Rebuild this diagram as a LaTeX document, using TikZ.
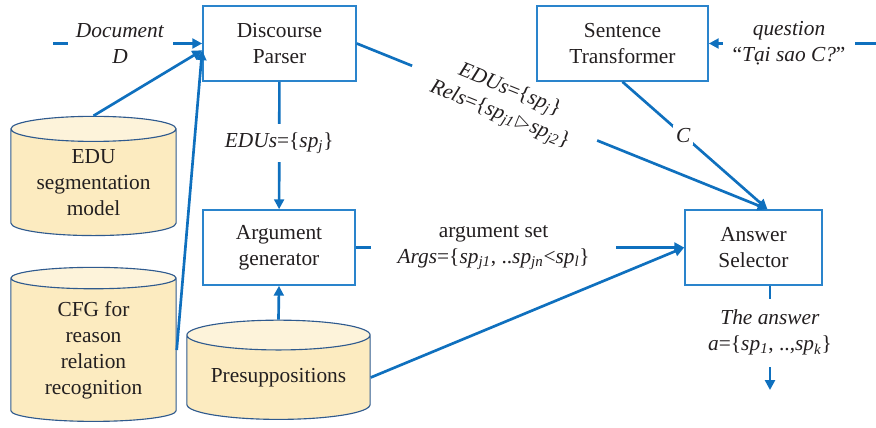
\documentclass[tikz,border=0pt]{standalone}
\usepackage{fontspec}
\usepackage{amssymb}
\setmainfont{Liberation Serif}
\usetikzlibrary{shapes.geometric, arrows.meta, positioning}
\definecolor{flowblue}{HTML}{0F70BE}
\definecolor{boxblue}{HTML}{2A84CC}
\definecolor{dbnavy}{HTML}{2F5A8E}
\definecolor{dbbody}{HTML}{FCEBC0}
\definecolor{dbtop}{HTML}{FDF3DA}
\definecolor{inkgray}{HTML}{231F20}

\newcommand{\spx}[1]{\textit{sp\textsubscript{#1}}}

\tikzset{
  txt/.style={text=inkgray, font=\fontsize{15.2}{18.5}\selectfont, align=center},
  procbox/.style={txt, draw=boxblue, line width=1pt, fill=white, minimum height=1.88cm, inner sep=0pt},
  datastore/.style={txt, cylinder, shape border rotate=90, aspect=0.22, draw=dbnavy, line width=0.8pt,
    cylinder uses custom fill, cylinder body fill=dbbody, cylinder end fill=dbtop, inner sep=0pt},
  flow/.style={draw=flowblue, line width=1.9pt, -{Triangle[length=7pt,width=7pt]}},
  gap/.style={txt, fill=white, inner sep=3pt},
}

\begin{document}
\begin{tikzpicture}[x=0.025cm, y=-0.025cm]
        \useasboundingbox (0,0) rectangle (876,428);

        % Processing boxes
        \node[procbox, minimum width=3.83cm] (parser) at (279.5,43.5) {Discourse\\Parser};
        \node[procbox, minimum width=4.28cm] (transf) at (622.5,43.5) {Sentence\\Transformer};
        \node[procbox, minimum width=3.8cm] (arggen) at (279,247.5) {Argument\\generator};
        \node[procbox, minimum width=3.43cm] (selector) at (753.5,247.5) {Answer\\Selector};

        % Knowledge stores
        \node[datastore, minimum width=4.13cm, minimum height=2.98cm] (edumodel) at (93.5,182.5) {EDU\\segmentation\\model};
        \node[datastore, minimum width=4.13cm, minimum height=3.85cm] (cfg) at (93.5,350) {CFG for\\reason\\relation\\recognition};
        \node[datastore, minimum width=4.58cm, minimum height=2.48cm] (presup) at (278.5,377.5) {Presuppositions};

        % Free ends
        \coordinate (docin) at (53,43.5);
        \coordinate (qin) at (876,43.5);
        \coordinate (ansout) at (770,390);

        % Inputs
        \draw[flow] (docin) -- node[gap, pos=0.45, inner xsep=6pt] {\textit{Document}\\\textit{D}} (parser.west);
        \draw[flow] (edumodel.north) -- (parser.185);
        \draw[flow] (cfg.east) -- (parser.185);
        \draw[flow] (qin) -- node[gap, pos=0.52, inner xsep=7pt] {\textit{question}\\“\textit{Tại sao C?}”} (transf.east);

        % Parser outputs
        \draw[flow] (parser) -- node[gap, pos=0.48, inner ysep=6pt] {\textit{EDUs}=\{\spx{j}\}} (arggen);
        \draw[flow] (parser.east) -- node[gap, sloped, pos=0.36, inner xsep=18pt]
          {\textit{EDUs}=\{\spx{j}\}\\\textit{Rels}=\{\spx{j1}$\rhd$\spx{j2}\}} (selector.70);
        \draw[flow] (transf.south) -- node[gap, pos=0.42, inner sep=2pt] {\textit{C}} (selector.70);

        % Arguments to selector
        \draw[flow] (presup.north) -- (arggen.south);
        \draw[flow] (arggen.east) -- node[gap, pos=0.42, inner xsep=19pt]
          {argument set\\\textit{Args}=\{\spx{j1}, ..\spx{jn}<\spx{l}\}} (selector.west);
        \draw[flow] (presup.east) -- (selector.west);

        % Output
        \draw[flow] (selector.south -| ansout) -- node[gap, pos=0.45, inner ysep=8pt]
          {\textit{The answer}\\\textit{a}=\{\spx{1}, ..,\spx{k}\}} (ansout);
    \end{tikzpicture}
\end{document}
